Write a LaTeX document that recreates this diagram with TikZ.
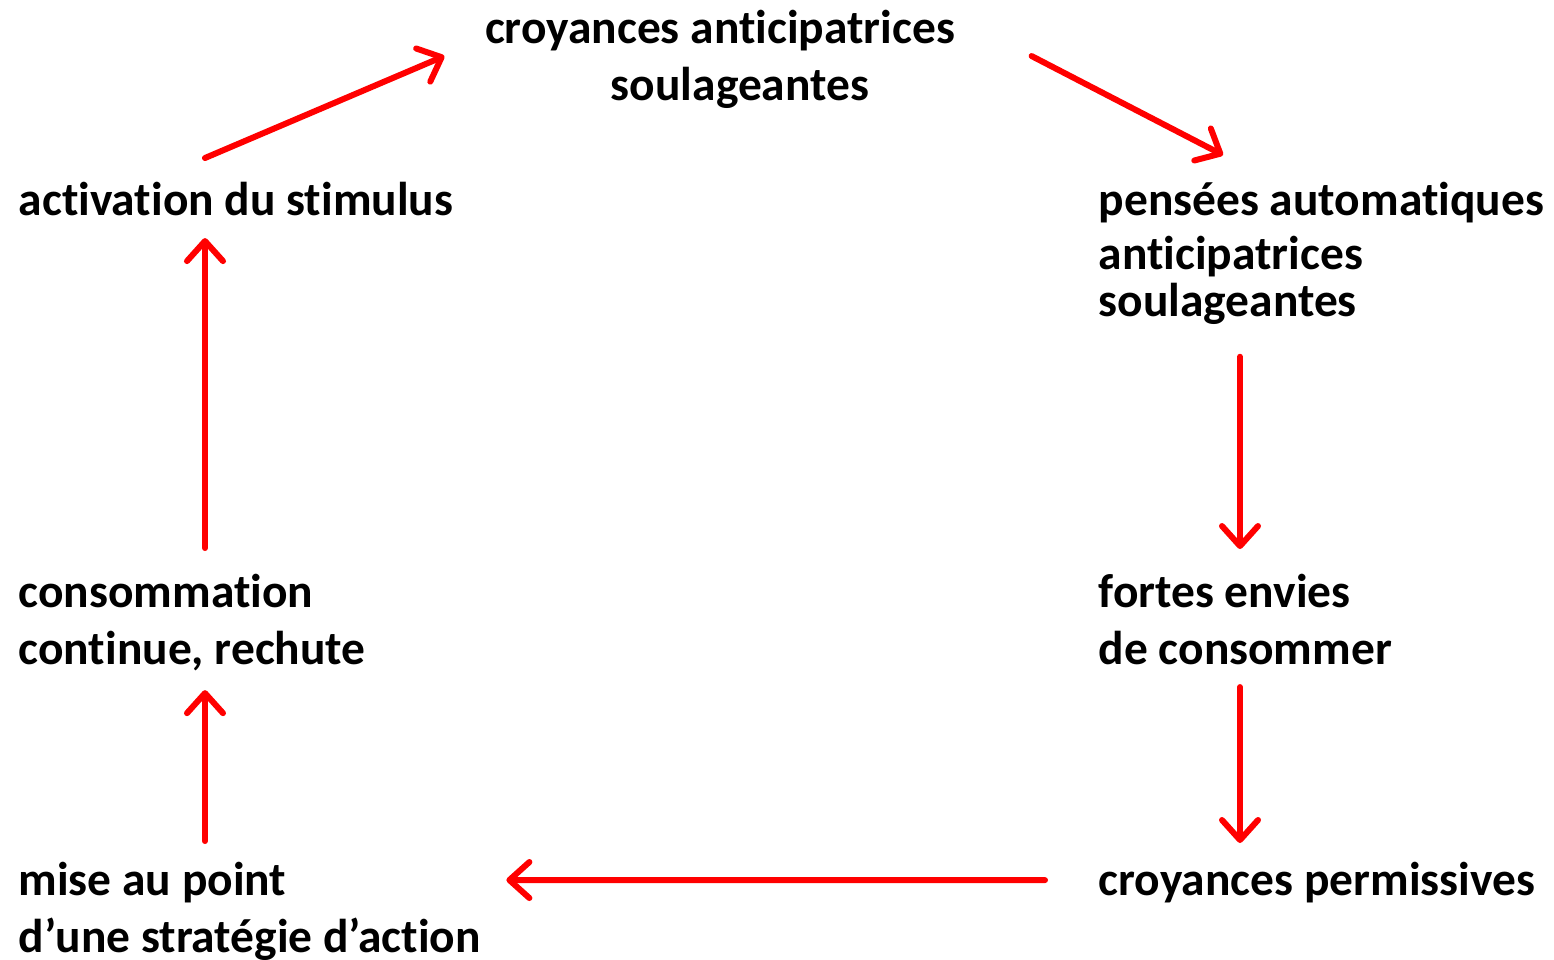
\documentclass[tikz,border=0pt]{standalone}
\usepackage{fontspec}
\setmainfont[Ligatures=NoCommon]{Carlito}
\usetikzlibrary{arrows.meta, calc}
\tikzset{lbl/.style={inner sep=0pt, font=\fontsize{13.5}{16.2}\selectfont\bfseries, align=left},
         arr/.style={draw=red, line width=0.06cm, line cap=round, -{Straight Barb[round, length=0.2cm, width=0.36cm]}}}

\begin{document}
\begin{tikzpicture}[x=0.01cm, y=-0.01cm]
    \useasboundingbox (0,0) rectangle (1554,959);

            % base = baseline of the last line
            \node[lbl, anchor=base west] (act) at (18,215) {activation du stimulus};
            \node[lbl, anchor=base, align=center] (top) at (720,100) {croyances anticipatrices\\\hspace*{0.4cm}soulageantes};
            \node[lbl, anchor=base west] (pens) at (1098,316) {pens\'ees automatiques\\[-0.6pt]anticipatrices\\[-3.1pt]soulageantes};
            \node[lbl, anchor=base west] (fort) at (1098,664) {fortes envies\\de consommer};
            \node[lbl, anchor=base west] (perm) at (1098,895) {croyances permissives};
            \node[lbl, anchor=base west] (mise) at (18,952) {mise au point\\d’une strat\'egie d’action};
            \node[lbl, anchor=base west] (cons) at (18,664) {consommation\\continue, rechute};

            \draw[arr] ($(act.north west)+(187,-23)$) -- ($(top.north west)+(-40,47)$);
            \draw[arr] ($(top.north east)+(76,47)$) -- ($(pens.north west)+(125,-26)$);
            \draw[arr] ($(pens.south west)+(142,32)$) -- ($(fort.north west)+(142,-24)$);
            \draw[arr] ($(fort.south west)+(142,22)$) -- ($(perm.north west)+(142,-18)$);
            \draw[arr] ($(perm.west)+(-53,-2)$) -- ($(mise.north east)+(25,19)$);
            \draw[arr] ($(mise.north west)+(187,-20)$) -- ($(cons.south west)+(187,19)$);
            \draw[arr] ($(cons.north west)+(187,-25)$) -- ($(act.south west)+(187,22)$);

\end{tikzpicture}
\end{document}
